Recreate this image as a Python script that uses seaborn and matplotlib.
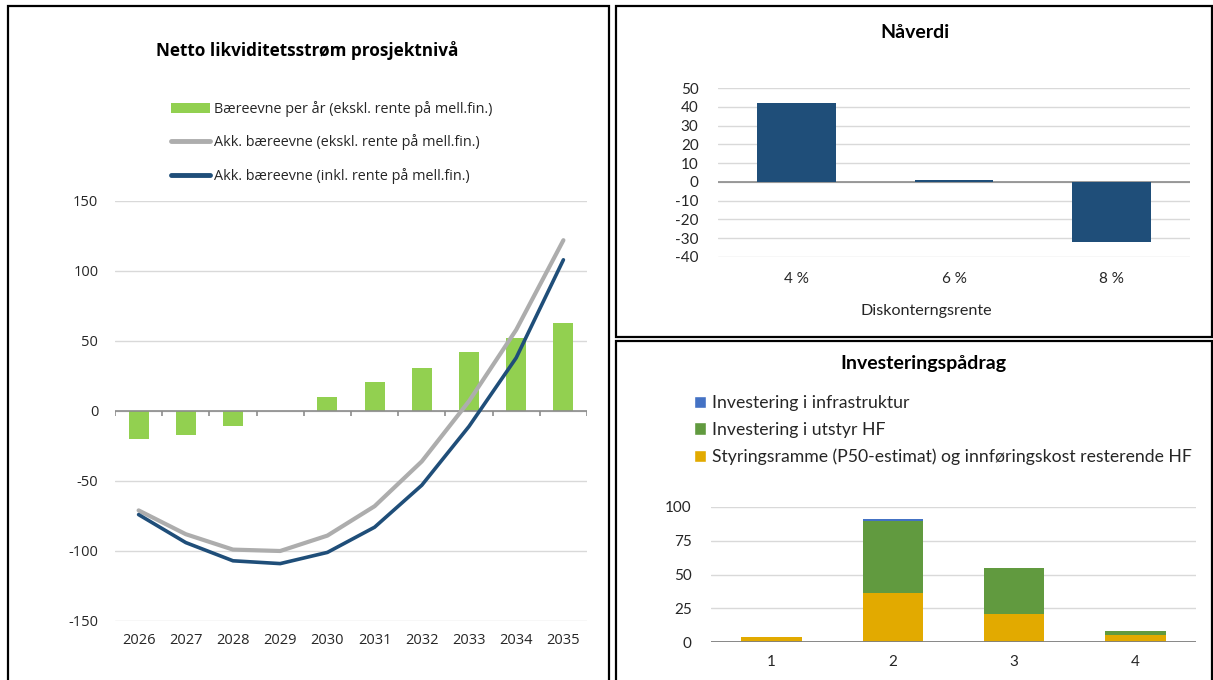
import matplotlib
matplotlib.use("Agg")
import matplotlib.pyplot as plt
import seaborn as sns
import numpy as np
from matplotlib.patches import Patch, Rectangle
from matplotlib.lines import Line2D

# ---------------- data ----------------
years = ["2026", "2027", "2028", "2029", "2030", "2031", "2032", "2033", "2034", "2035"]
baereevne_per_aar = [-20, -17, -11, 0, 10, 21, 31, 42, 52, 63]
akk_ekskl = [-71, -88, -99, -100, -89, -68, -36, 7, 58, 122]
akk_inkl = [-74, -94, -107, -109, -101, -83, -53, -11, 38, 108]
left_yticks = [-150, -100, -50, 0, 50, 100, 150]

rente_labels = ["4 %", "6 %", "8 %"]
naaverdi = [42, 1, -32]
npv_yticks = [-40, -30, -20, -10, 0, 10, 20, 30, 40, 50]

perioder = ["1", "2", "3", "4"]
infrastruktur = [0, 1, 0, 0]
utstyr_hf = [0, 54, 34, 3]
styringsramme = [4, 36, 21, 5]
inv_yticks = [0, 25, 50, 75, 100]

# ---------------- style ----------------
sns.set_theme(style="white")
plt.rcParams['font.family'] = ['Lato', 'DejaVu Sans']
LEFT_FONT = ['Open Sans', 'DejaVu Sans']

W, H = 1213, 680
fig = plt.figure(figsize=(W / 100, H / 100), dpi=100)


def ax_px(x0, y0, x1, y1):
    return fig.add_axes([x0 / W, 1 - y1 / H, (x1 - x0) / W, (y1 - y0) / H])


def frame_px(x0, y0, x1, y1):
    fig.patches.append(Rectangle((x0 / W, 1 - y1 / H), (x1 - x0) / W, (y1 - y0) / H,
                                 transform=fig.transFigure, fill=False,
                                 edgecolor="black", linewidth=1.6, zorder=0))


frame_px(8, 6, 609, 684)
frame_px(616, 6, 1212, 337)
frame_px(616, 341, 1212, 684)

GRID = "#D9D9D9"
BARKW = dict(saturation=1, linewidth=0, edgecolor="none")

# ---------------- left panel ----------------
ax1 = ax_px(115, 201, 587, 621)
sns.barplot(x=years, y=baereevne_per_aar, color="#92D050", width=0.42, ax=ax1, zorder=2, **BARKW)
pos = np.arange(len(years))
sns.lineplot(x=pos, y=akk_ekskl, color="#ADADAD", linewidth=3.0, ax=ax1, zorder=4)
sns.lineplot(x=pos, y=akk_inkl, color="#1F4E79", linewidth=2.6, ax=ax1, zorder=5)
ax1.set_xlim(-0.5, len(years) - 0.5)
ax1.set_ylim(-150, 150)
ax1.set_yticks(left_yticks)
ax1.set_yticklabels([str(v) for v in left_yticks])
ax1.yaxis.grid(True, color=GRID, linewidth=1.0, zorder=0)
ax1.set_axisbelow(True)
for s in ax1.spines.values():
    s.set_visible(False)
ax1.axhline(0, color="#8C8C8C", linewidth=1.2, zorder=3)
ax1.vlines(np.arange(-0.5, len(years)), 0.5 - 0.013, 0.5,
           transform=ax1.get_xaxis_transform(), color="#8C8C8C", linewidth=1.2, zorder=3)
ax1.tick_params(axis='x', length=0, pad=9, labelsize=10.5, colors="#262626")
ax1.tick_params(axis='y', length=0, pad=12, labelsize=10.5, colors="#262626")
for t in ax1.get_xticklabels() + ax1.get_yticklabels():
    t.set_fontfamily(LEFT_FONT)
ax1.set_xlabel("")
ax1.set_ylabel("")

fig.text(307 / W, 1 - 50 / H, "Netto likviditetsstrøm prosjektnivå", ha='center', va='center',
         fontweight='bold', fontsize=12.3, family=LEFT_FONT, color="black")

h1 = [Patch(facecolor="#92D050", edgecolor="none"),
      Line2D([], [], color="#ADADAD", linewidth=3.5),
      Line2D([], [], color="#1F4E79", linewidth=3.5)]
l1 = ["Bæreevne per år (ekskl. rente på mell.fin.)",
      "Akk. bæreevne (ekskl. rente på mell.fin.)",
      "Akk. bæreevne (inkl. rente på mell.fin.)"]
leg1 = ax1.legend(h1, l1, loc='upper left', bbox_to_anchor=(158 / W, 1 - 88 / H),
                  bbox_transform=fig.transFigure, frameon=False, handlelength=2.7,
                  handleheight=0.7, handletextpad=0.25, labelspacing=1.2,
                  prop={'family': LEFT_FONT, 'size': 10.4})
for t in leg1.get_texts():
    t.set_color("#262626")

# ---------------- top right: Nåverdi ----------------
ax2 = ax_px(718, 88, 1190, 257)
sns.barplot(x=rente_labels, y=naaverdi, color="#1F4E79", width=0.5, ax=ax2, zorder=2, **BARKW)
ax2.set_ylim(-40, 50)
ax2.set_yticks(npv_yticks)
ax2.set_yticklabels([str(v) for v in npv_yticks])
ax2.yaxis.grid(True, color=GRID, linewidth=1.0)
ax2.set_axisbelow(True)
for s in ax2.spines.values():
    s.set_visible(False)
ax2.axhline(0, color="#8C8C8C", linewidth=1.2, zorder=1)
ax2.tick_params(axis='x', length=0, pad=11, labelsize=11, colors="#262626")
ax2.tick_params(axis='y', length=0, pad=14, labelsize=11, colors="#262626")
ax2.set_xlabel("Diskonterngsrente", fontsize=11.6, color="#262626")
ax2.xaxis.set_label_coords((926 - 718) / (1190 - 718), -(311 - 257) / (257 - 88))
ax2.xaxis.label.set_va('center')
ax2.set_ylabel("")
fig.text(915 / W, 1 - 33 / H, "Nåverdi", ha='center', va='center', fontweight='bold',
         fontsize=14, color="black")

# ---------------- bottom right: Investeringspådrag ----------------
ax3 = ax_px(711, 507, 1196, 642)
tot_all = [a + b + c for a, b, c in zip(infrastruktur, utstyr_hf, styringsramme)]
tot_two = [b + c for b, c in zip(utstyr_hf, styringsramme)]
C_INFRA, C_UTSTYR, C_STYR = "#4472C4", "#619A3F", "#E2AA00"
sns.barplot(x=perioder, y=tot_all, color=C_INFRA, width=0.5, ax=ax3, zorder=2, **BARKW)
sns.barplot(x=perioder, y=tot_two, color=C_UTSTYR, width=0.5, ax=ax3, zorder=3, **BARKW)
sns.barplot(x=perioder, y=styringsramme, color=C_STYR, width=0.5, ax=ax3, zorder=4, **BARKW)
ax3.set_ylim(0, 100)
ax3.set_yticks(inv_yticks)
ax3.set_yticklabels([str(v) for v in inv_yticks])
ax3.yaxis.grid(True, color=GRID, linewidth=1.0)
ax3.set_axisbelow(True)
for s in ax3.spines.values():
    s.set_visible(False)
ax3.axhline(0, color="#7F7F7F", linewidth=1.3, zorder=5)
ax3.tick_params(axis='x', length=0, pad=9, labelsize=11, colors="#262626")
ax3.tick_params(axis='y', length=0, pad=14, labelsize=11, colors="#262626")
ax3.set_xlabel("")
ax3.set_ylabel("")
fig.text(923 / W, 1 - 364 / H, "Investeringspådrag", ha='center', va='center',
         fontweight='bold', fontsize=14, color="black")

h3 = [Patch(facecolor=C_INFRA), Patch(facecolor=C_UTSTYR), Patch(facecolor=C_STYR)]
l3 = ["Investering i infrastruktur", "Investering i utstyr HF",
      "Styringsramme (P50-estimat) og innføringskost resterende HF"]
leg3 = ax3.legend(h3, l3, loc='upper left', bbox_to_anchor=(678 / W, 1 - 379 / H),
                  bbox_transform=fig.transFigure, frameon=False, handlelength=0.7,
                  handleheight=0.7, handletextpad=0.35, labelspacing=0.62,
                  prop={'size': 12.7})
for t in leg3.get_texts():
    t.set_color("#262626")

fig.savefig("out.png", dpi=100, facecolor="white")
